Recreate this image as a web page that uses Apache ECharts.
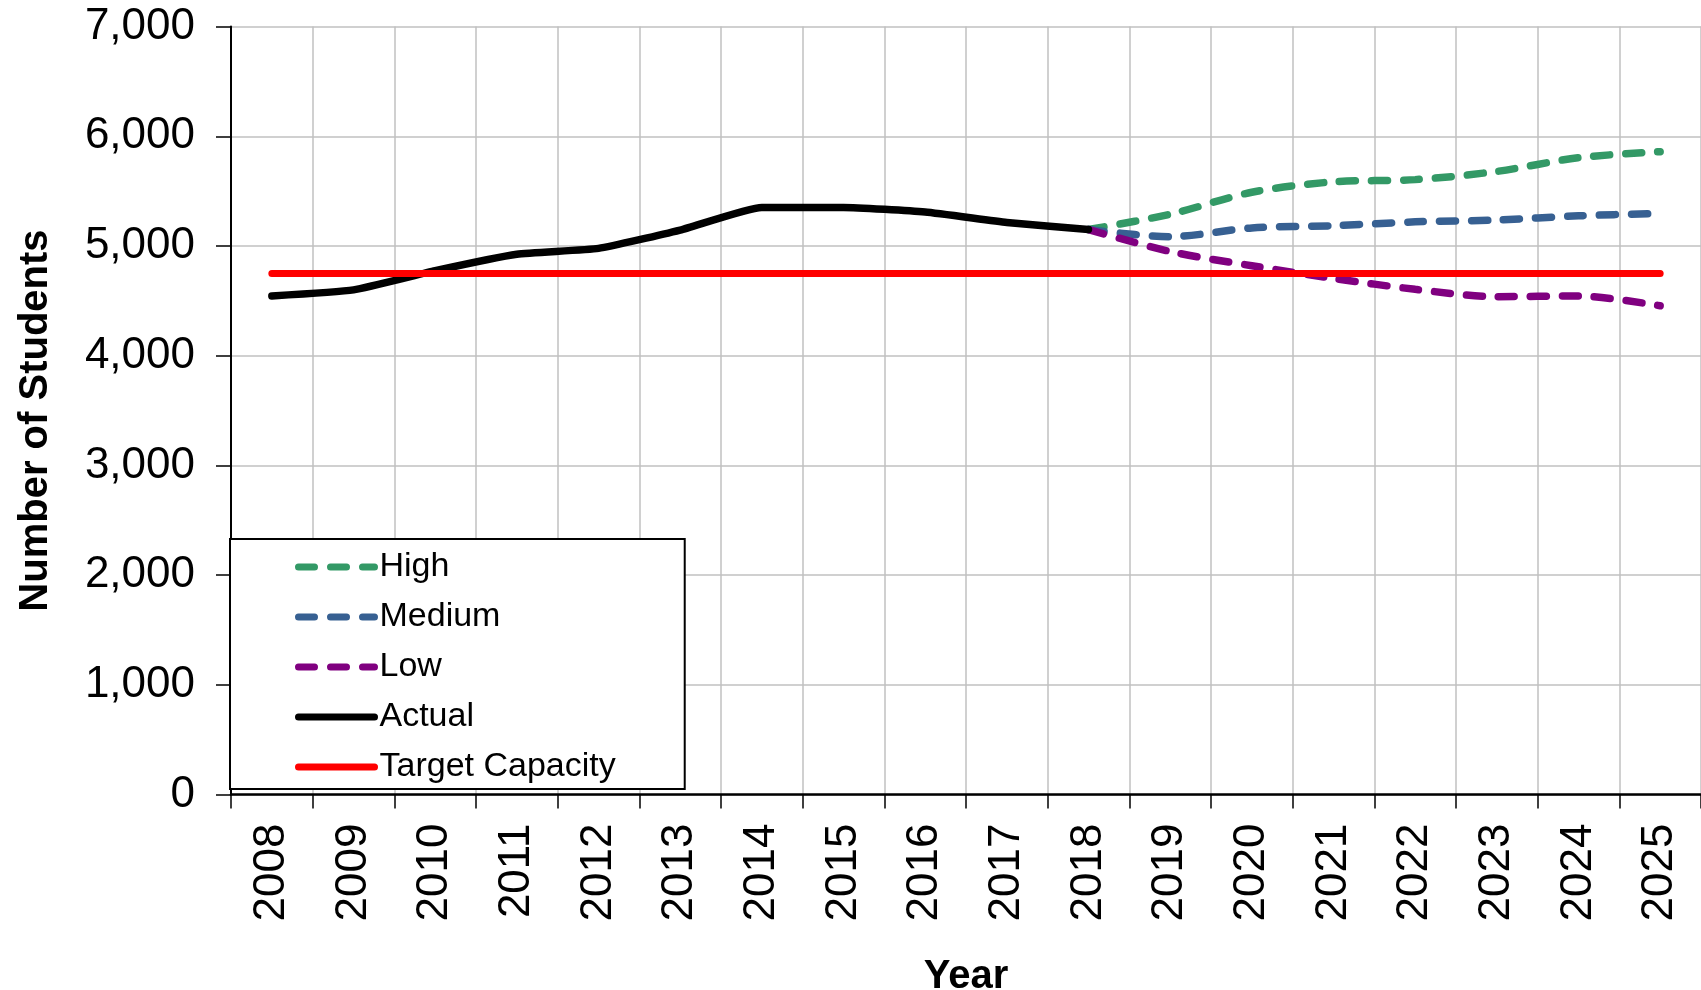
<!DOCTYPE html>
<html>
<head>
<meta charset="utf-8">
<script src="https://cdn.jsdelivr.net/npm/echarts@6/dist/echarts.min.js"></script>
<style>
html,body{margin:0;padding:0;background:#fff;}
#chart{width:1701px;height:990px;}
</style>
</head>
<body>
<div id="chart"></div>
<script>
const years = ['2008','2009','2010','2011','2012','2013','2014','2015','2016','2017','2018','2019','2020','2021','2022','2023','2024','2025'];
const high   = [null,null,null,null,null,null,null,null,null,null,5150,5290,5490,5585,5605,5680,5805,5860];
const medium = [null,null,null,null,null,null,null,null,null,null,5150,5085,5165,5185,5220,5237,5275,5297];
const low    = [null,null,null,null,null,null,null,null,null,null,5150,4950,4820,4705,4605,4538,4544,4455];
const actual = [4545,4600,4775,4925,4978,5145,5352,5352,5310,5215,5150,null,null,null,null,null,null,null];
const target = [4750,4750,4750,4750,4750,4750,4750,4750,4750,4750,4750,4750,4750,4750,4750,4750,4750,4750];
const yTicks = [0,1000,2000,3000,4000,5000,6000,7000];

const FONT = '"Liberation Sans", Arial, sans-serif';
const chart = echarts.init(document.getElementById('chart'));

function dashed(name, data, color) {
  return {
    name: name, type: 'line', data: data, symbol: 'none', smooth: 0.3,
    connectNulls: false,
    lineStyle: { color: color, width: 7.5, type: [16, 16], cap: 'round' },
    itemStyle: { color: color },
    emphasis: { disabled: true }
  };
}

chart.setOption({
  animation: false,
  backgroundColor: '#fff',
  grid: { left: 231, right: 0, top: 26.6, bottom: 195.5, containLabel: false, outerBoundsMode: 'none' },
  legend: {
    orient: 'vertical',
    left: 230, top: 539,
    padding: [8, 69, 2, 65],
    itemGap: 10,
    itemWidth: 76, itemHeight: 7,
    backgroundColor: '#fff',
    borderColor: '#000', borderWidth: 2,
    itemStyle: { opacity: 0 },
    lineStyle: { width: 7, cap: 'round' },
    textStyle: { fontFamily: FONT, fontSize: 34, color: '#000', lineHeight: 40 },
    data: ['High','Medium','Low','Actual','Target Capacity']
  },
  xAxis: {
    type: 'category',
    data: years,
    boundaryGap: true,
    name: 'Year',
    nameLocation: 'middle',
    nameGap: 162,
    nameTextStyle: { fontFamily: FONT, fontSize: 40, fontWeight: 'bold', color: '#000', verticalAlign: 'top' },
    axisLine: { lineStyle: { color: '#000', width: 2.5 } },
    axisTick: { show: true, length: 14, lineStyle: { color: '#000', width: 1.5 } },
    axisLabel: { rotate: 90, interval: 0, margin: 29, fontFamily: FONT, fontSize: 44, color: '#000' },
    splitLine: { show: true, interval: 0, lineStyle: { color: '#c0c0c0', width: 1.5 } }
  },
  yAxis: {
    type: 'value',
    min: yTicks[0], max: yTicks[yTicks.length - 1], interval: 1000,
    name: 'Number of Students',
    nameLocation: 'middle',
    nameGap: 175,
    nameRotate: 90,
    nameTextStyle: { fontFamily: FONT, fontSize: 40, fontWeight: 'bold', color: '#000', padding: [0, 20, 0, 0] },
    axisLine: { show: true, lineStyle: { color: '#000', width: 2 } },
    axisTick: { show: true, length: 15, lineStyle: { color: '#000', width: 1.5 } },
    axisLabel: {
      margin: 36, fontFamily: FONT, fontSize: 44, color: '#000',
      formatter: v => v.toLocaleString('en-US')
    },
    splitLine: { show: true, lineStyle: { color: '#c0c0c0', width: 1.5 } }
  },
  series: [
    dashed('High', high, '#339966'),
    dashed('Medium', medium, '#376092'),
    dashed('Low', low, '#800080'),
    { name: 'Actual', type: 'line', data: actual, symbol: 'none', smooth: 0.15,
      lineStyle: { color: '#000', width: 7.5, cap: 'round', join: 'round' }, itemStyle: { color: '#000' } },
    { name: 'Target Capacity', type: 'line', data: target, symbol: 'none',
      lineStyle: { color: '#ff0000', width: 7, cap: 'round' }, itemStyle: { color: '#ff0000' } }
  ]
});
</script>
</body>
</html>
